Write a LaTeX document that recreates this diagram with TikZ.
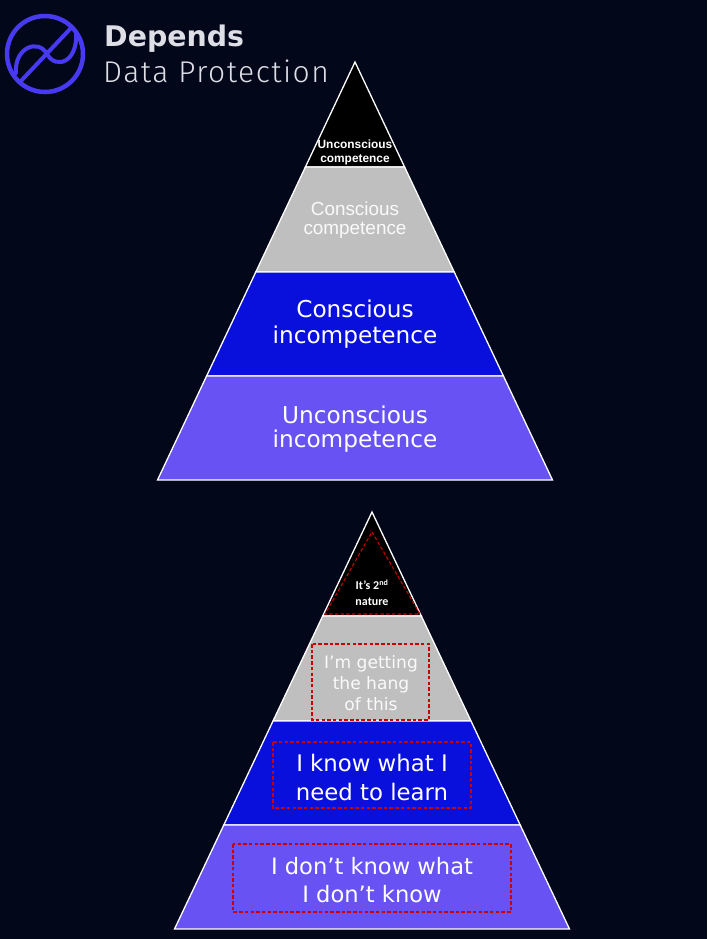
\documentclass[tikz,border=0pt]{standalone}
\usepackage{fontspec}
\setmainfont{DejaVu Sans}
\newfontfamily\arialf{Liberation Sans}
\newfontfamily\calibf{Carlito}
\newfontfamily\lightf{Fira Sans}[UprightFont={* Light}, LetterSpace=5]
\definecolor{bg}{RGB}{2,8,26}
\definecolor{tgrey}{RGB}{191,191,191}
\definecolor{tblue}{RGB}{10,16,220}
\definecolor{tpurple}{RGB}{104,82,243}
\definecolor{logoc}{RGB}{72,58,242}
\definecolor{logotext}{RGB}{222,222,230}
\definecolor{dred}{RGB}{200,0,0}
\definecolor{lightw}{RGB}{250,250,250}
\tikzset{
  tier/.style={draw=white, line width=1.3pt, line join=miter},
  lbl/.style={align=center, inner sep=0pt, text=white},
  guide/.style={draw=dred, line width=1.1pt, dash pattern=on 3.5pt off 2.2pt},
  logo/.style={draw=logoc, line width=4.5pt, line cap=round}
}
\begin{document}
\begin{tikzpicture}[x=1pt,y=-1pt]
\useasboundingbox (0,0) rectangle (707,939);
\fill[bg] (0,0) rectangle (707,939);
% logo
\draw[logo] (45,54) circle (38);
\draw[logo, line width=4pt] (20,82) -- (71,28);
\draw[logo, line width=4pt] (16,73) .. controls (14,48) and (38,38) .. (47,54) .. controls (56,70) and (78,62) .. (76,33);
\node[anchor=base west, inner sep=0pt, text=logotext, font=\bfseries\fontsize{28.4}{34}\selectfont] (brand) at (104,47) {Depends};
\node[anchor=base west, inner sep=0pt, text=logotext, font=\lightf\fontsize{30}{34}\selectfont] (sub) at (103,83) {Data Protection};
% top pyramid
\fill[black, tier] (355,62) -- (404.6,167) -- (305.4,167) -- cycle;
\fill[tgrey, tier] (305.4,167) -- (404.6,167) -- (454.2,272) -- (255.8,272) -- cycle;
\fill[tblue, tier] (255.8,272) -- (454.2,272) -- (503.4,376) -- (206.6,376) -- cycle;
\fill[tpurple, tier] (206.6,376) -- (503.4,376) -- (552.5,480) -- (157.5,480) -- cycle;
\node[lbl, font=\arialf\bfseries\fontsize{11.9}{14}\selectfont] (t1) at (355,152) {Unconscious\\competence};
\node[lbl, text=lightw, font=\arialf\fontsize{18.9}{19.5}\selectfont] (t2) at (355,220) {Conscious\\competence};
\node[lbl, font=\fontsize{23.2}{25.5}\selectfont] (t3) at (355,324) {Conscious\\incompetence};
\node[lbl, font=\fontsize{23.2}{24.5}\selectfont] (t4) at (355,429) {Unconscious\\incompetence};
% bottom pyramid
\fill[black, tier] (372,512) -- (421.3,616) -- (322.7,616) -- cycle;
\fill[tgrey, tier] (322.7,616) -- (421.3,616) -- (471,721) -- (273,721) -- cycle;
\fill[tblue, tier] (273,721) -- (471,721) -- (520.2,825) -- (223.8,825) -- cycle;
\fill[tpurple, tier] (223.8,825) -- (520.2,825) -- (569.5,929) -- (174.5,929) -- cycle;
\draw[guide] (372,532) -- (420,614) -- (325,614) -- cycle;
\draw[guide] (312,644) rectangle (429,720);
\draw[guide] (273,742) rectangle (471,808);
\draw[guide] (233,844) rectangle (511,912);
\node[lbl, font=\calibf\bfseries\fontsize{12}{16}\selectfont] (b1) at (372,593) {It’s 2\textsuperscript{nd}\\nature};
\node[lbl, text=lightw, font=\fontsize{17.1}{21}\selectfont] (b2) at (371,683.5) {I’m getting\\the hang\\of this};
\node[lbl, font=\fontsize{22.8}{29}\selectfont] (b3) at (372,777.5) {I know what I\\need to learn};
\node[lbl, font=\fontsize{22.6}{28}\selectfont] (b4) at (372,880) {I don’t know what\\I don’t know};
\end{tikzpicture}
\end{document}
